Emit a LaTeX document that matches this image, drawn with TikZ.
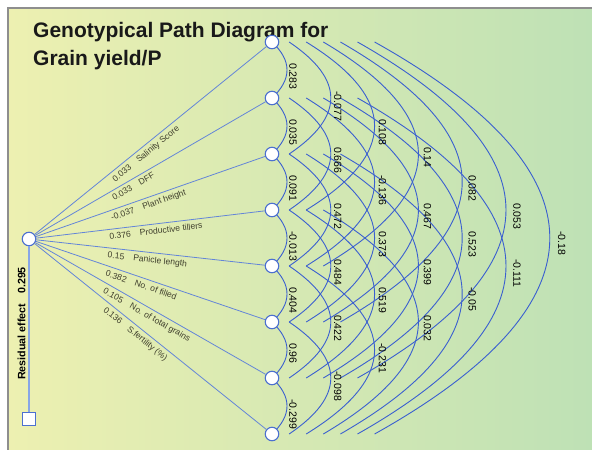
\documentclass[tikz,border=0pt]{standalone}
\usepackage{fontspec}
\setmainfont{Liberation Sans}
\usepackage{xcolor}
\usepackage{tikz}
\usetikzlibrary{calc}
\definecolor{nodeblue}{HTML}{4C70D0}
\definecolor{fanblue}{HTML}{6385D8}
\definecolor{arcblue}{HTML}{3A5FD0}
\definecolor{stemblue}{HTML}{88A6E6}
\definecolor{labelolive}{HTML}{3F3F2C}
\definecolor{bgyellow}{HTML}{EDF0B1}
\definecolor{bggreen}{HTML}{BEE1B5}
\definecolor{framegray}{HTML}{8E8E8E}
\pgfdeclarelayer{back}
\pgfsetlayers{back,main}
\tikzset{
    varnode/.style={
        circle,
        draw=nodeblue,
        fill=white,
        line width=1.1pt,
        minimum size=13.5pt,
        inner sep=0pt
    },
    residbox/.style={
        rectangle,
        draw=nodeblue,
        fill=white,
        line width=1.1pt,
        minimum size=12.5pt,
        inner sep=0pt
    },
    fanline/.style={draw=fanblue, line width=0.8pt},
    stemline/.style={draw=stemblue, line width=1.2pt},
    corrarc/.style={draw=arcblue, line width=0.9pt},
    fanlabel/.style={
        sloped,
        anchor=north,
        inner sep=3.5pt,
        text=labelolive,
        font=\fontsize{8.6}{10}\selectfont
    },
    coefflabel/.style={
        rotate=-90,
        anchor=west,
        inner sep=0pt,
        font=\fontsize{10.5}{12}\selectfont
    },
    titletext/.style={
        anchor=base west,
        inner sep=0pt,
        text=black!90,
        font=\fontsize{21}{25}\selectfont\bfseries
    }
}

\begin{document}
\begin{tikzpicture}[x=1pt, y=-1pt]
    \useasboundingbox (0,0) rectangle (592,450);
    % panel
    \begin{pgfonlayer}{back}
        \shade[left color=bgyellow, right color=bggreen] (8,8) rectangle (592,450);
        \draw[framegray, line width=2pt] (8,450) -- (8,8) -- (592,8);
    \end{pgfonlayer}

    \node[titletext] (title1) at (33,37.3) {Genotypical Path Diagram for};
    \node[titletext] (title2) at (33,65.7) {Grain yield/P};

    % traits and grain yield
    \foreach \k in {1,...,8}
        \node[varnode] (n\k) at (272,{42+56*(\k-1)}) {};
    \node[varnode] (yield) at (29,239) {};
    \node[residbox] (resid) at (29,419) {};

    % direct effects
    \foreach \k/\p/\txt in {
        1/0.46/{0.033\hspace{9pt}Salinity Score},
        2/0.41/{0.033\hspace{9pt}DFF},
        3/0.48/{-0.037\hspace{9pt}Plant height},
        4/0.52/{0.376\hspace{9pt}Productive tillers},
        5/0.49/{0.15\hspace{9pt}Panicle length},
        6/0.47/{0.382\hspace{9pt}No. of filled},
        7/0.50/{0.105\hspace{9pt}No. of total grains},
        8/0.455/{0.136\hspace{9pt}S.fertility (\%)}}
        \draw[fanline] (yield) -- (n\k) node[fanlabel, pos=\p] (lab\k) {\txt};

    \draw[stemline] (yield) -- (resid);
    \node[rotate=90, inner sep=0pt, font=\fontsize{10.7}{12}\selectfont\bfseries]
        (residtxt) at (21.5,323.5) {Residual effect\hspace{10pt}0.295};

    % correlations between traits
    \foreach \i/\j/\val in {
        1/2/0.283, 2/3/0.035, 3/4/0.091, 4/5/-0.013, 5/6/0.404, 6/7/0.96, 7/8/-0.299,
        1/3/-0.077, 2/4/0.666, 3/5/0.472, 4/6/0.484, 5/7/0.422, 6/8/-0.098,
        1/4/0.108, 2/5/-0.136, 3/6/0.373, 4/7/0.519, 5/8/-0.231,
        1/5/0.14, 2/6/0.467, 3/7/0.399, 4/8/0.032,
        1/6/0.082, 2/7/0.523, 3/8/-0.05,
        1/7/0.053, 2/8/-0.111,
        1/8/-0.18}{
        \pgfmathsetmacro{\gap}{\j-\i}
        \pgfmathsetmacro{\dx}{17.1*(\gap-1)}
        \pgfmathsetmacro{\qx}{2*(15+43.8*(\gap-1))-\dx}
        \pgfmathsetmacro{\lx}{21+44.8*(\gap-1)}
        \coordinate (s) at ($(n\i)+(\dx,0)$);
        \coordinate (e) at ($(n\j)+(\dx,0)$);
        \coordinate (q) at ($(n\i)!0.5!(n\j)+(\qx,0)$);
        \begin{pgfonlayer}{back}
            \draw[corrarc] (s) .. controls ($(s)!2/3!(q)$) and ($(e)!2/3!(q)$) .. (e);
        \end{pgfonlayer}
        \node[coefflabel] (c\i\j) at ($(n\i)!0.5!(n\j)+(\lx,-7)$) {\val};
    }
\end{tikzpicture}
\end{document}
